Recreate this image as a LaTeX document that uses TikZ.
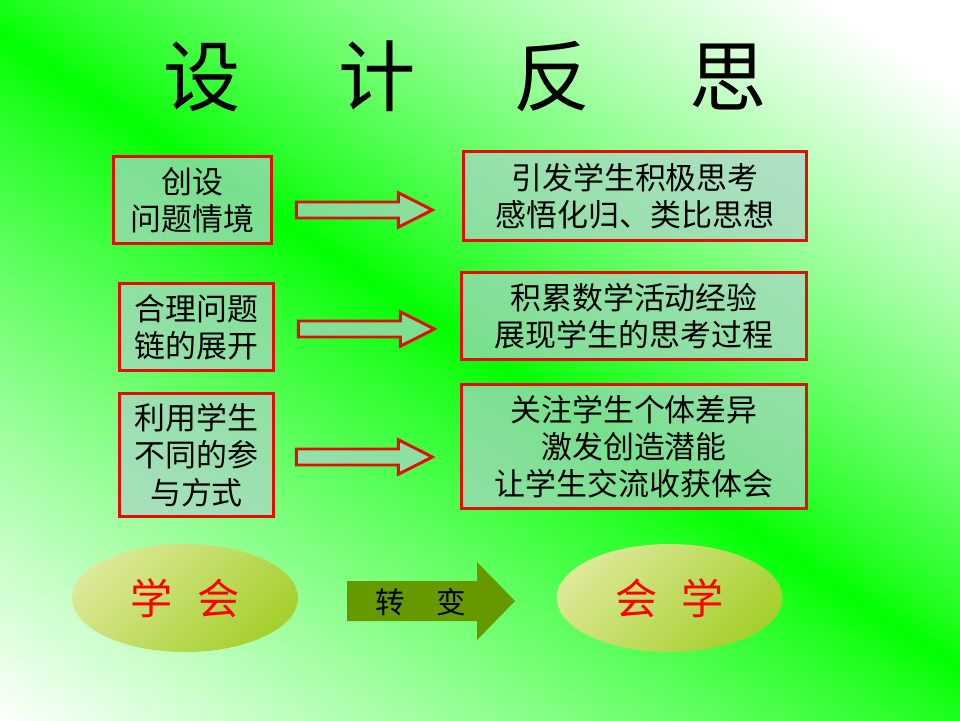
\documentclass[tikz,border=0pt]{standalone}
\usepackage{fontspec}
\setmainfont{Noto Sans CJK SC}
\usetikzlibrary{shapes.geometric}

\definecolor{boxfill}{RGB}{171,212,200}
\definecolor{boxline}{RGB}{225,15,10}
\definecolor{ovallight}{RGB}{220,232,150}
\definecolor{ovaldark}{RGB}{165,208,45}
\definecolor{turngreen}{RGB}{102,153,0}

\tikzset{
  textbox/.style={draw=boxline, line width=2.1pt, fill=boxfill, fill opacity=0.7,
    text opacity=1, align=center, inner sep=0pt, font=\fontsize{22}{26.5}\selectfont},
  oval/.style={ellipse, inner sep=0pt, minimum width=5.65cm, minimum height=2.7cm,
    left color=ovallight, right color=ovaldark, shading angle=45, text=red,
    font=\fontsize{30}{30}\selectfont},
  hollowarrow/.pic={
    \draw[boxline, line width=2.1pt, fill=boxfill, fill opacity=0.7]
      (0,0.2) -- (2.55,0.2) -- (2.55,0.43) -- (3.4,0) -- (2.55,-0.43) -- (2.55,-0.2) -- (0,-0.2) -- cycle;
  }
}

\begin{document}
\begin{tikzpicture}
\useasboundingbox (0,0) rectangle (24,18);

% background: green band between two white corners
\begin{scope}
\clip (0,0) rectangle (24,18);
\fill[white] (0,0) rectangle (24,18);
\begin{scope}[shift={(0,17.125)}, rotate=-33.4]
\foreach \i in {-145,...,119}{
  \pgfmathsetmacro{\w}{ifthenelse(\i>=0,12,14.5)}
  \pgfmathsetmacro{\gr}{100*(1-(abs(\i+0.5)/10/\w)^0.85)}
  \fill[green!\gr!white] (-5,\i/10) rectangle (35,\i/10+0.11);
}
\end{scope}
\end{scope}

\node (title) at (11.625,16.1) {\fontsize{55}{60}\selectfont 设\hspace{2.45cm}计\hspace{2.45cm}反\hspace{2.45cm}思};

% left column
\node[textbox, minimum width=3.95cm, minimum height=2.175cm] (way1) at (4.8125,13.0) {创设\\问题情境};
\node[textbox, minimum width=3.85cm, minimum height=2.175cm] (way2) at (4.9125,9.825) {合理问题\\链的展开};
\node[textbox, minimum width=3.85cm, minimum height=3.075cm] (way3) at (4.9125,6.625) {利用学生\\不同的参\\与方式};

% right column
\node[textbox, minimum width=8.575cm, minimum height=2.225cm] (gain1) at (15.875,13.1) {引发学生积极思考\\感悟化归、类比思想};
\node[textbox, minimum width=8.625cm, minimum height=2.175cm] (gain2) at (15.85,10.1) {积累数学活动经验\\展现学生的思考过程};
\node[textbox, minimum width=8.625cm, minimum height=3.1cm] (gain3) at (15.85,6.8375) {关注学生个体差异\\激发创造潜能\\让学生交流收获体会};

\pic at (7.41,12.75) {hollowarrow};
\pic at (7.46,9.775) {hollowarrow};
\pic at (7.41,6.575) {hollowarrow};

% bottom row
\node[oval] (before) at (4.625,3.05) {学\hspace{0.6cm}会};
\node[oval] (after) at (16.74,3.05) {会\hspace{0.6cm}学};
\fill[turngreen] (8.675,3.475) -- (11.925,3.475) -- (11.925,3.95) -- (12.875,2.975)
  -- (11.925,2.0) -- (11.925,2.475) -- (8.675,2.475) -- cycle;
\node[font=\fontsize{21}{21}\selectfont] (turn) at (10.525,2.95) {转\hspace{0.8cm}变};
\end{tikzpicture}
\end{document}
